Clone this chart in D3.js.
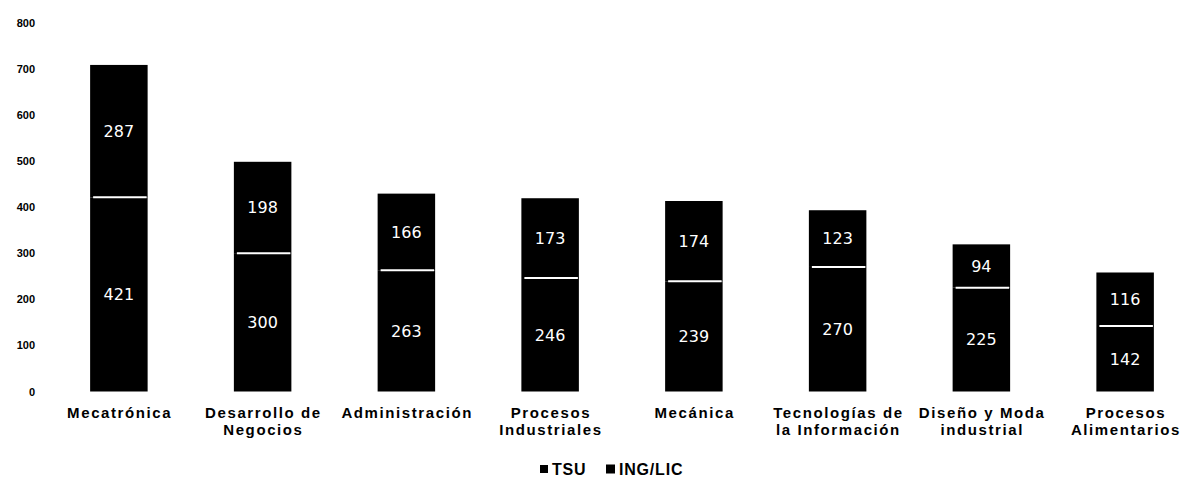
<!DOCTYPE html>
<html><head><meta charset="utf-8">
<script src="https://cdn.jsdelivr.net/npm/d3@7"></script>
<style>body{margin:0;background:#fff}svg{display:block}</style>
</head><body>
<svg id="chart" width="1181" height="479"></svg>
<script>
const categories = [["Mecatrónica"],["Desarrollo de","Negocios"],["Administración"],["Procesos","Industriales"],["Mecánica"],["Tecnologías de","la Información"],["Diseño y Moda","industrial"],["Procesos","Alimentarios"]];
const tsu = [421,300,263,246,239,270,225,142];
const ing = [287,198,166,173,174,123,94,116];
const series = ["TSU","ING/LIC"];
const yTicks = [0,100,200,300,400,500,600,700,800];

const svg = d3.select("#chart");
const keys = categories.map(c => c.join(" "));
const x = d3.scaleBand().domain(keys).range([47,1197]).paddingInner(0.6).paddingOuter(0.3);
const y = d3.scaleLinear().domain([0,800]).range([391.5,22.5]);

const rows = keys.map((k,i)=>({key:k, TSU:tsu[i], "ING/LIC":ing[i]}));
const stacked = d3.stack().keys(series)(rows);

// y axis labels
const yAxis = d3.axisLeft(y).tickValues(yTicks).tickSize(0).tickPadding(0);
const ga = svg.append("g").attr("transform","translate(35,0)").call(yAxis);
ga.select(".domain").remove();
ga.selectAll("text").attr("font-family","Liberation Sans, Arial, sans-serif").attr("font-weight","bold").attr("font-size","11px").attr("fill","#000");

// bars
stacked.forEach(s => {
  svg.append("g").selectAll("rect").data(s).join("rect")
    .attr("x", d => x(d.data.key))
    .attr("width", x.bandwidth())
    .attr("y", d => y(d[1]))
    .attr("height", d => y(d[0]) - y(d[1]))
    .attr("fill","#000");
});
// separators
svg.append("g").selectAll("line").data(stacked[0]).join("line")
  .attr("x1", d => x(d.data.key)+3).attr("x2", d => x(d.data.key)+x.bandwidth()-1)
  .attr("y1", d => y(d[1])).attr("y2", d => y(d[1]))
  .attr("stroke","#fff").attr("stroke-width",2);

// value labels
stacked.forEach(s => {
  svg.append("g").selectAll("text").data(s).join("text")
    .attr("x", d => x(d.data.key)+x.bandwidth()/2)
    .attr("y", d => y((d[0]+d[1])/2))
    .attr("dy","0.36em")
    .attr("text-anchor","middle")
    .attr("font-family","DejaVu Sans, sans-serif")
    .attr("font-size","16px")
    .attr("fill","#fff")
    .text(d => d[1]-d[0]);
});

// category labels
const xl = svg.append("g");
categories.forEach((lines,i) => {
  const t = xl.append("text")
    .attr("x", x(keys[i])+x.bandwidth()/2+0.8)
    .attr("text-anchor","middle")
    .attr("font-family","Liberation Sans, Arial, sans-serif")
    .attr("font-weight","bold").attr("font-size","15px")
    .attr("letter-spacing","1.6px").attr("fill","#000");
  lines.forEach((l,j) => t.append("tspan").attr("x", x(keys[i])+x.bandwidth()/2+0.8).attr("y", 418 + j*17).text(l));
});

// legend
const leg = svg.append("g");
const legItems = [{name:series[0], sx:540, sw:8, tx:552},{name:series[1], sx:606, sw:9, tx:619}];
legItems.forEach(d => {
  leg.append("rect").attr("x",d.sx).attr("y",469-d.sw/2).attr("width",d.sw).attr("height",d.sw).attr("fill","#000");
  leg.append("text").attr("x",d.tx).attr("y",469).attr("dy","0.36em")
    .attr("font-family","Liberation Sans, Arial, sans-serif").attr("font-weight","bold").attr("font-size","16px")
    .attr("letter-spacing","0.8px")
    .attr("fill","#000").text(d.name);
});
</script>
</body></html>
